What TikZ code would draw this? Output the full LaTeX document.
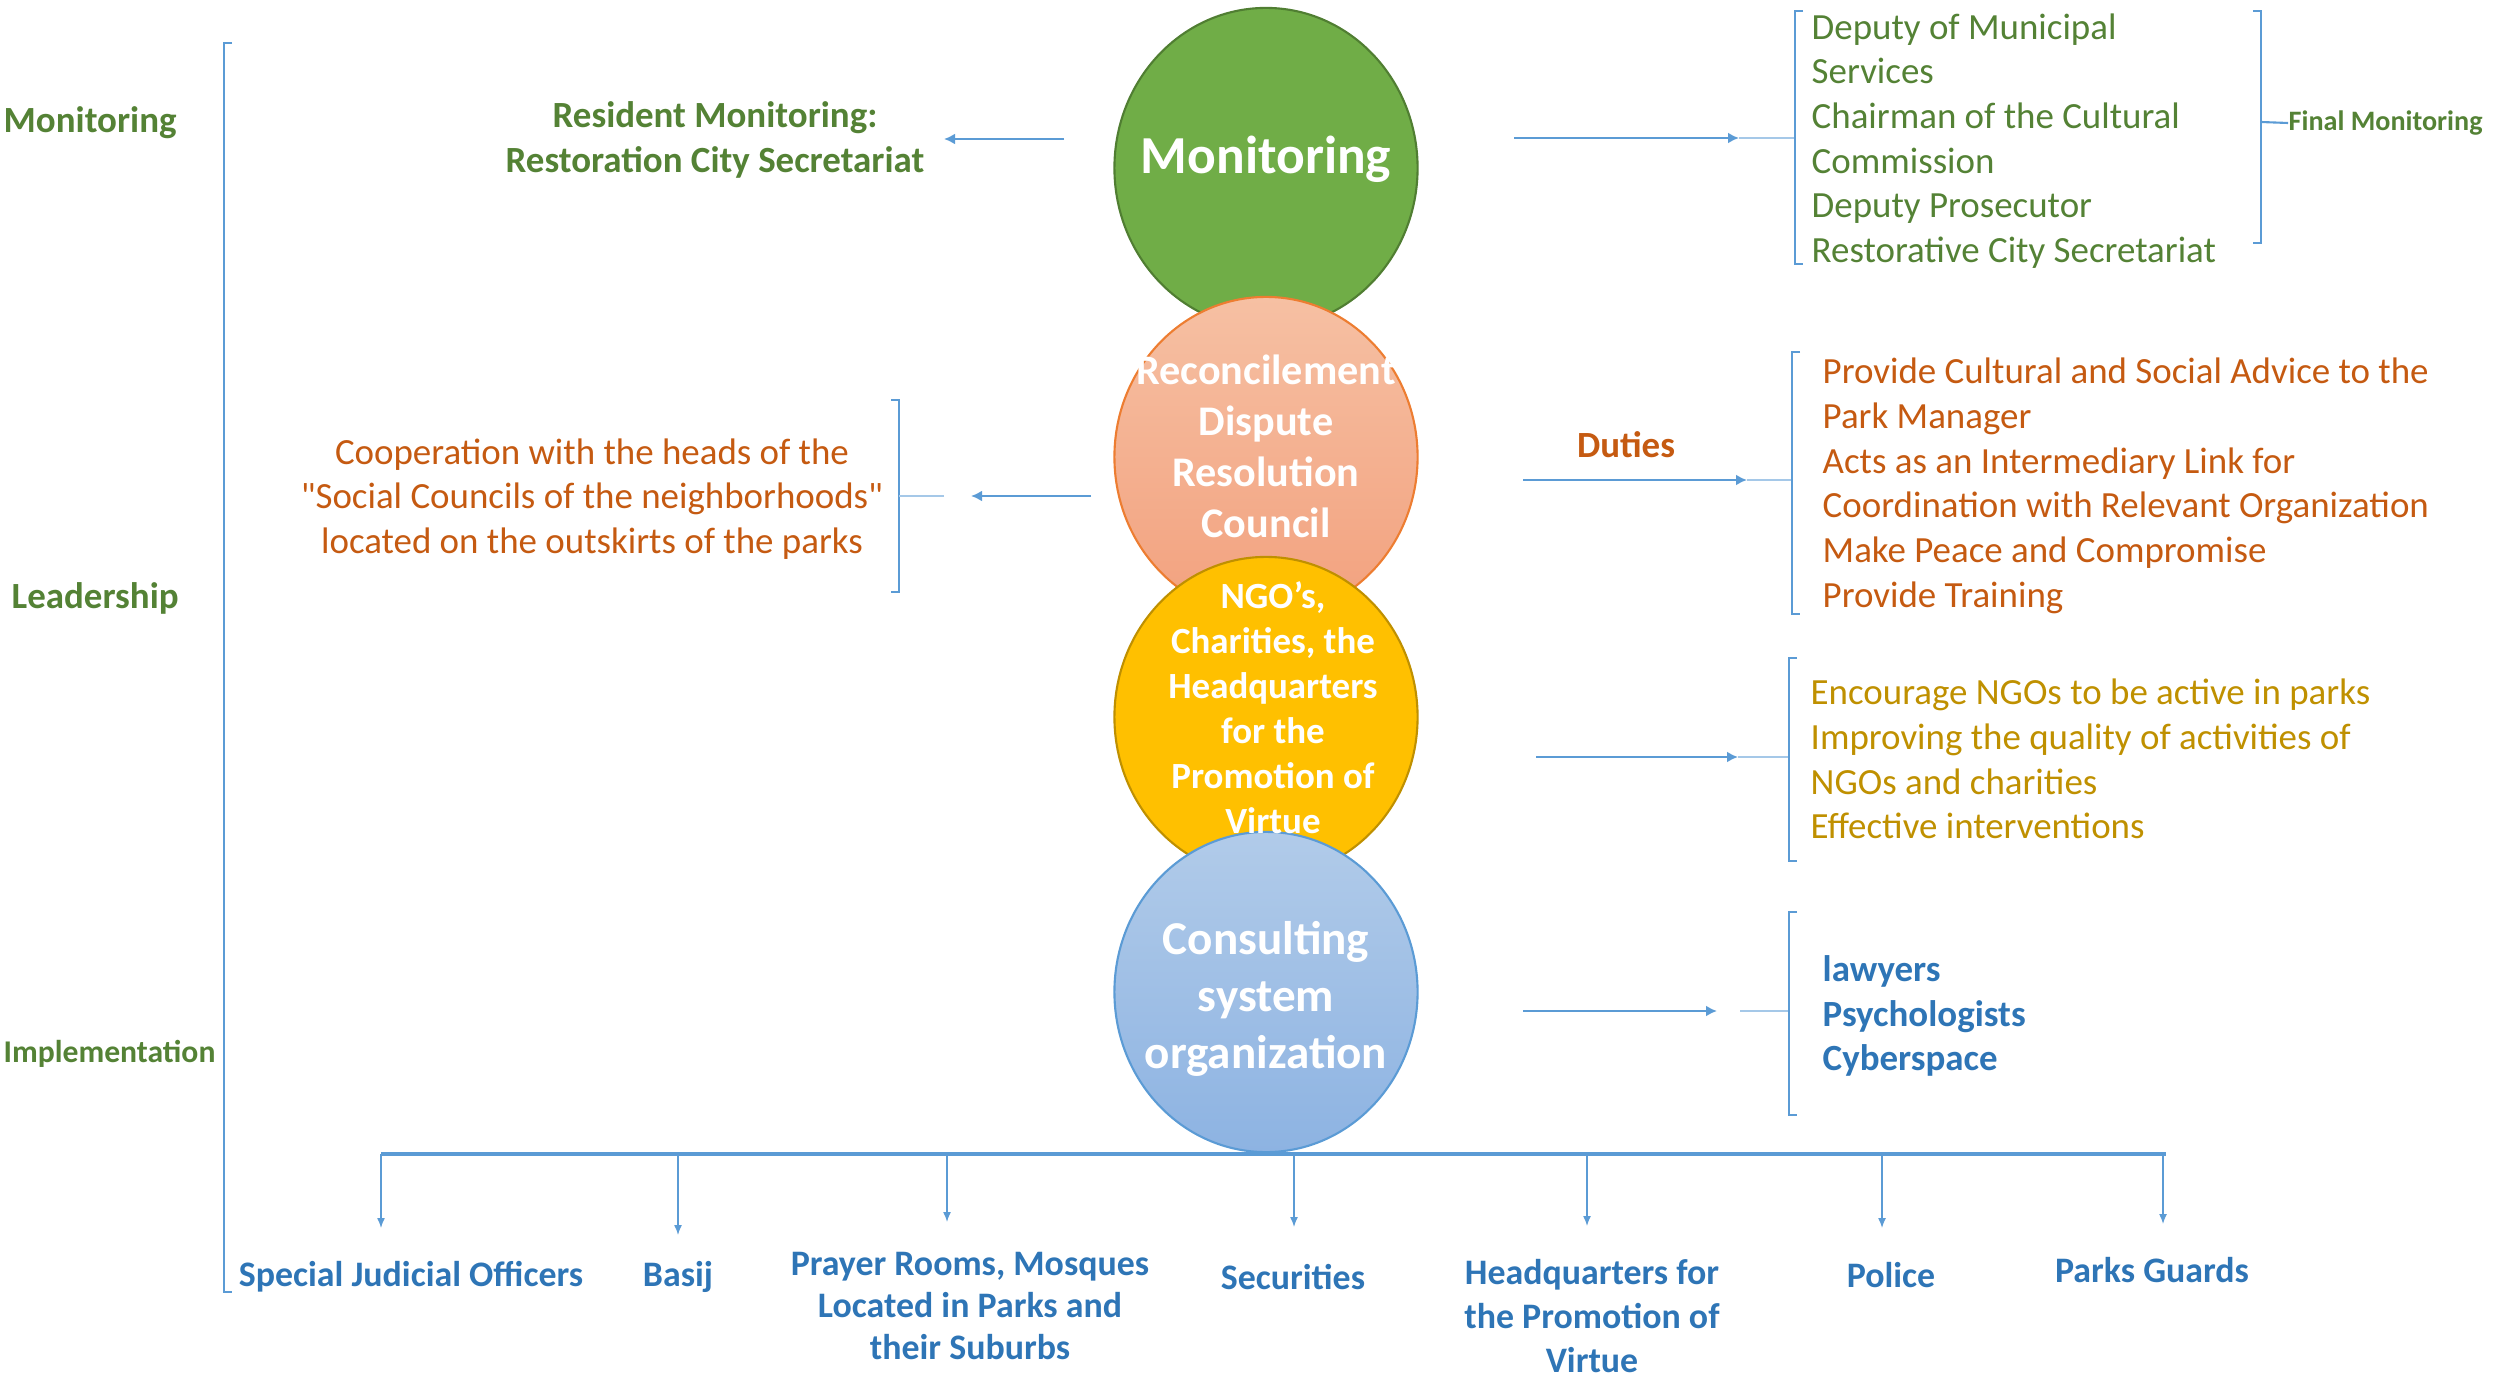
\documentclass[tikz,border=0pt]{standalone}
\usepackage{fontspec}
\setmainfont{Carlito}
\usetikzlibrary{arrows.meta,shapes.geometric}

\definecolor{lineblue}{HTML}{5B9BD5}
\definecolor{txtgreen}{HTML}{548235}
\definecolor{txtorange}{HTML}{C55A11}
\definecolor{txtgold}{HTML}{BF9000}
\definecolor{txtblue}{HTML}{2E75B6}
\definecolor{fillgreen}{HTML}{70AD47}
\definecolor{drawgreen}{HTML}{507E32}
\definecolor{salmontop}{HTML}{F6C0A3}
\definecolor{salmonbot}{HTML}{F2A17E}
\definecolor{draworange}{HTML}{ED7D31}
\definecolor{fillgold}{HTML}{FFC000}
\definecolor{drawgold}{HTML}{BF9000}
\definecolor{bluetop}{HTML}{B1CBE9}
\definecolor{bluebot}{HTML}{8DB3E2}

\begin{document}
\begin{tikzpicture}[
  x=0.01cm, y=-0.01cm,
  disc/.style     = {ellipse, draw, line width=0.6pt, inner sep=0,
                     minimum width=3.03cm, minimum height=3.2cm},
  disctext/.style = {text=white, align=center, inner sep=0},
  arr/.style      = {-{Latex[length=1.1mm,width=1.1mm]}, draw=lineblue, line width=0.8pt},
  link/.style     = {draw=lineblue!55, line width=0.6pt},
  brk/.style      = {draw=lineblue, line width=0.5pt},
  drop/.style     = {-{Latex[length=1mm,width=0.8mm]}, draw=lineblue, line width=0.4pt},
  list/.style     = {anchor=west, align=left, inner sep=0,
                     font=\fontsize{10.5}{12.7}\selectfont},
  side/.style     = {text=txtgreen, inner sep=0,
                     font=\bfseries\fontsize{10.5}{12.7}\selectfont},
  unit/.style     = {text=txtblue, align=center, inner sep=0,
                     font=\bfseries\fontsize{10.2}{12.5}\selectfont}
]
\useasboundingbox (0,0) rectangle (2509,1376);

% ---- constants ----
\def\cx{1266}        % centre line of the discs
\def\tick{8}         % bracket tick length

% ---- left column ----
\draw[brk] ({224+\tick},43) -- (224,43) -- (224,1292) -- ({224+\tick},1292);
\node[side, anchor=west] (lmon) at (3,123) {Monitoring};
\node[side, anchor=west] (llead) at (11,598) {Leadership};
\node[side, anchor=west, font=\bfseries\fontsize{9}{11}\selectfont] (limpl) at (3,1054) {Implementation};

% ---- discs ----
\node[disc, fill=fillgreen, draw=drawgreen] (mon) at (\cx,168) {};
\node[disc, top color=salmontop, bottom color=salmonbot, draw=draworange] (rec) at (\cx,457) {};
\node[disc, fill=fillgold, draw=drawgold] (ngo) at (\cx,717) {};
\node[disc, top color=bluetop, bottom color=bluebot, draw=lineblue] (cons) at (\cx,992) {};

\node[disctext, font=\bfseries\fontsize{15.2}{18}\selectfont] (montxt) at (\cx,159) {Monitoring};
\node[disctext, font=\bfseries\fontsize{12}{14.5}\selectfont] (rectxt) at (\cx,446)
  {Reconcilement\\Dispute\\Resolution\\Council};
\node[disctext, font=\bfseries\fontsize{10.5}{12.8}\selectfont] (ngotxt) at (1273,708)
  {NGO's,\\Charities, the\\Headquarters\\for the\\Promotion of\\Virtue};
\node[disctext, font=\bfseries\fontsize{13.4}{16.2}\selectfont] (constxt) at (\cx,999)
  {Consulting\\system\\organization};

% ---- monitoring row ----
\node[side, align=center] (resid) at (715,140) {Resident Monitoring:\\Restoration City Secretariat};
\coordinate (monl1) at (1064,139);
\coordinate (monl2) at (944,139);
\draw[arr] (monl1) -- (monl2);

\coordinate (monr1) at (1514,138);
\coordinate (monr2) at (1739,138);
\coordinate (monbr) at (1795,138);
\draw[arr] (monr1) -- (monr2);
\draw[link] (monr2) -- (monbr);
\draw[brk] ({1795+\tick},11) -- (1795,11) -- (1795,264) -- ({1795+\tick},264);
\node[list, text=txtgreen] (monlist) at (1811,141)
  {Deputy of Municipal\\Services\\Chairman of the Cultural\\Commission\\Deputy Prosecutor\\Restorative City Secretariat};
\draw[brk] ({2261-\tick},11) -- (2261,11) -- (2261,243) -- ({2261-\tick},243);
\node[side, anchor=west, font=\bfseries\fontsize{8}{10}\selectfont] (finmon) at (2288,123) {Final Monitoring};
\coordinate (finbr) at (2261,122);
\draw[link, draw=lineblue] (finbr) -- (finmon.west);

% ---- reconcilement row ----
\node[align=center, text=txtorange, inner sep=0, font=\fontsize{10.5}{12.7}\selectfont] (coop) at (592,499)
  {Cooperation with the heads of the\\\textquotedbl Social Councils of the neighborhoods\textquotedbl\\located on the outskirts of the parks};
\draw[brk] ({899-\tick},400) -- (899,400) -- (899,592) -- ({899-\tick},592);
\coordinate (recl1) at (1091,496);
\coordinate (recl2) at (971,496);
\coordinate (recl3) at (944,496);
\coordinate (recbr) at (899,496);
\draw[arr] (recl1) -- (recl2);
\draw[link] (recl3) -- (recbr);

\node[text=txtorange, inner sep=0, font=\bfseries\fontsize{10.5}{12.7}\selectfont] (duties) at (1626,445) {Duties};
\coordinate (recr1) at (1523,480);
\coordinate (recr2) at (1747,480);
\coordinate (recrbr) at (1792,480);
\draw[arr] (recr1) -- (recr2);
\draw[link] (recr2) -- (recrbr);
\draw[brk] ({1792+\tick},352) -- (1792,352) -- (1792,614) -- ({1792+\tick},614);
\node[list, text=txtorange] (dutylist) at (1822,486)
  {Provide Cultural and Social Advice to the\\Park Manager\\Acts as an Intermediary Link for\\Coordination with Relevant Organization\\Make Peace and Compromise\\Provide Training};

% ---- ngo row ----
\coordinate (ngor1) at (1536,757);
\coordinate (ngor2) at (1738,757);
\coordinate (ngobr) at (1789,757);
\draw[arr] (ngor1) -- (ngor2);
\draw[link] (ngor2) -- (ngobr);
\draw[brk] ({1789+\tick},658) -- (1789,658) -- (1789,861) -- ({1789+\tick},861);
\node[list, text=txtgold] (ngolist) at (1810,759)
  {Encourage NGOs to be active in parks\\Improving the quality of activities of\\NGOs and charities\\Effective interventions};

% ---- consulting row ----
\coordinate (consr1) at (1523,1011);
\coordinate (consr2) at (1717,1011);
\coordinate (consr3) at (1740,1011);
\coordinate (consbr) at (1789,1011);
\draw[arr] (consr1) -- (consr2);
\draw[link] (consr3) -- (consbr);
\draw[brk] ({1789+\tick},912) -- (1789,912) -- (1789,1115) -- ({1789+\tick},1115);
\node[list, text=txtblue, font=\bfseries\fontsize{10.5}{12.7}\selectfont] (conslist) at (1822,1016)
  {lawyers\\Psychologists\\Cyberspace};

% ---- implementation units ----
\coordinate (busl) at (381,1154);
\coordinate (busr) at (2166,1154);
\draw[draw=lineblue, line width=1.3pt] (busl) -- (busr);
\foreach \n/\px/\tip in {sjo/381/1228, basij/678/1235, prayer/947/1222, sec/1294/1227,
                         hq/1587/1226, police/1882/1228, guards/2163/1224} {
  \coordinate (\n-top) at (\px,1154);
  \coordinate (\n-tip) at (\px,\tip);
  \draw[drop] (\n-top) -- (\n-tip);
}
\node[unit] (sjo) at (411,1277) {Special Judicial Officers};
\node[unit] (basij) at (678,1277) {Basij};
\node[unit, font=\bfseries\fontsize{10.2}{11.9}\selectfont] (prayer) at (970,1306)
  {Prayer Rooms, Mosques\\Located in Parks and\\their Suburbs};
\node[unit] (sec) at (1293,1277) {Securities};
\node[unit] (hq) at (1592,1316) {Headquarters for\\the Promotion of\\Virtue};
\node[unit] (police) at (1891,1275) {Police};
\node[unit] (guards) at (2152,1270) {Parks Guards};

\end{tikzpicture}
\end{document}
